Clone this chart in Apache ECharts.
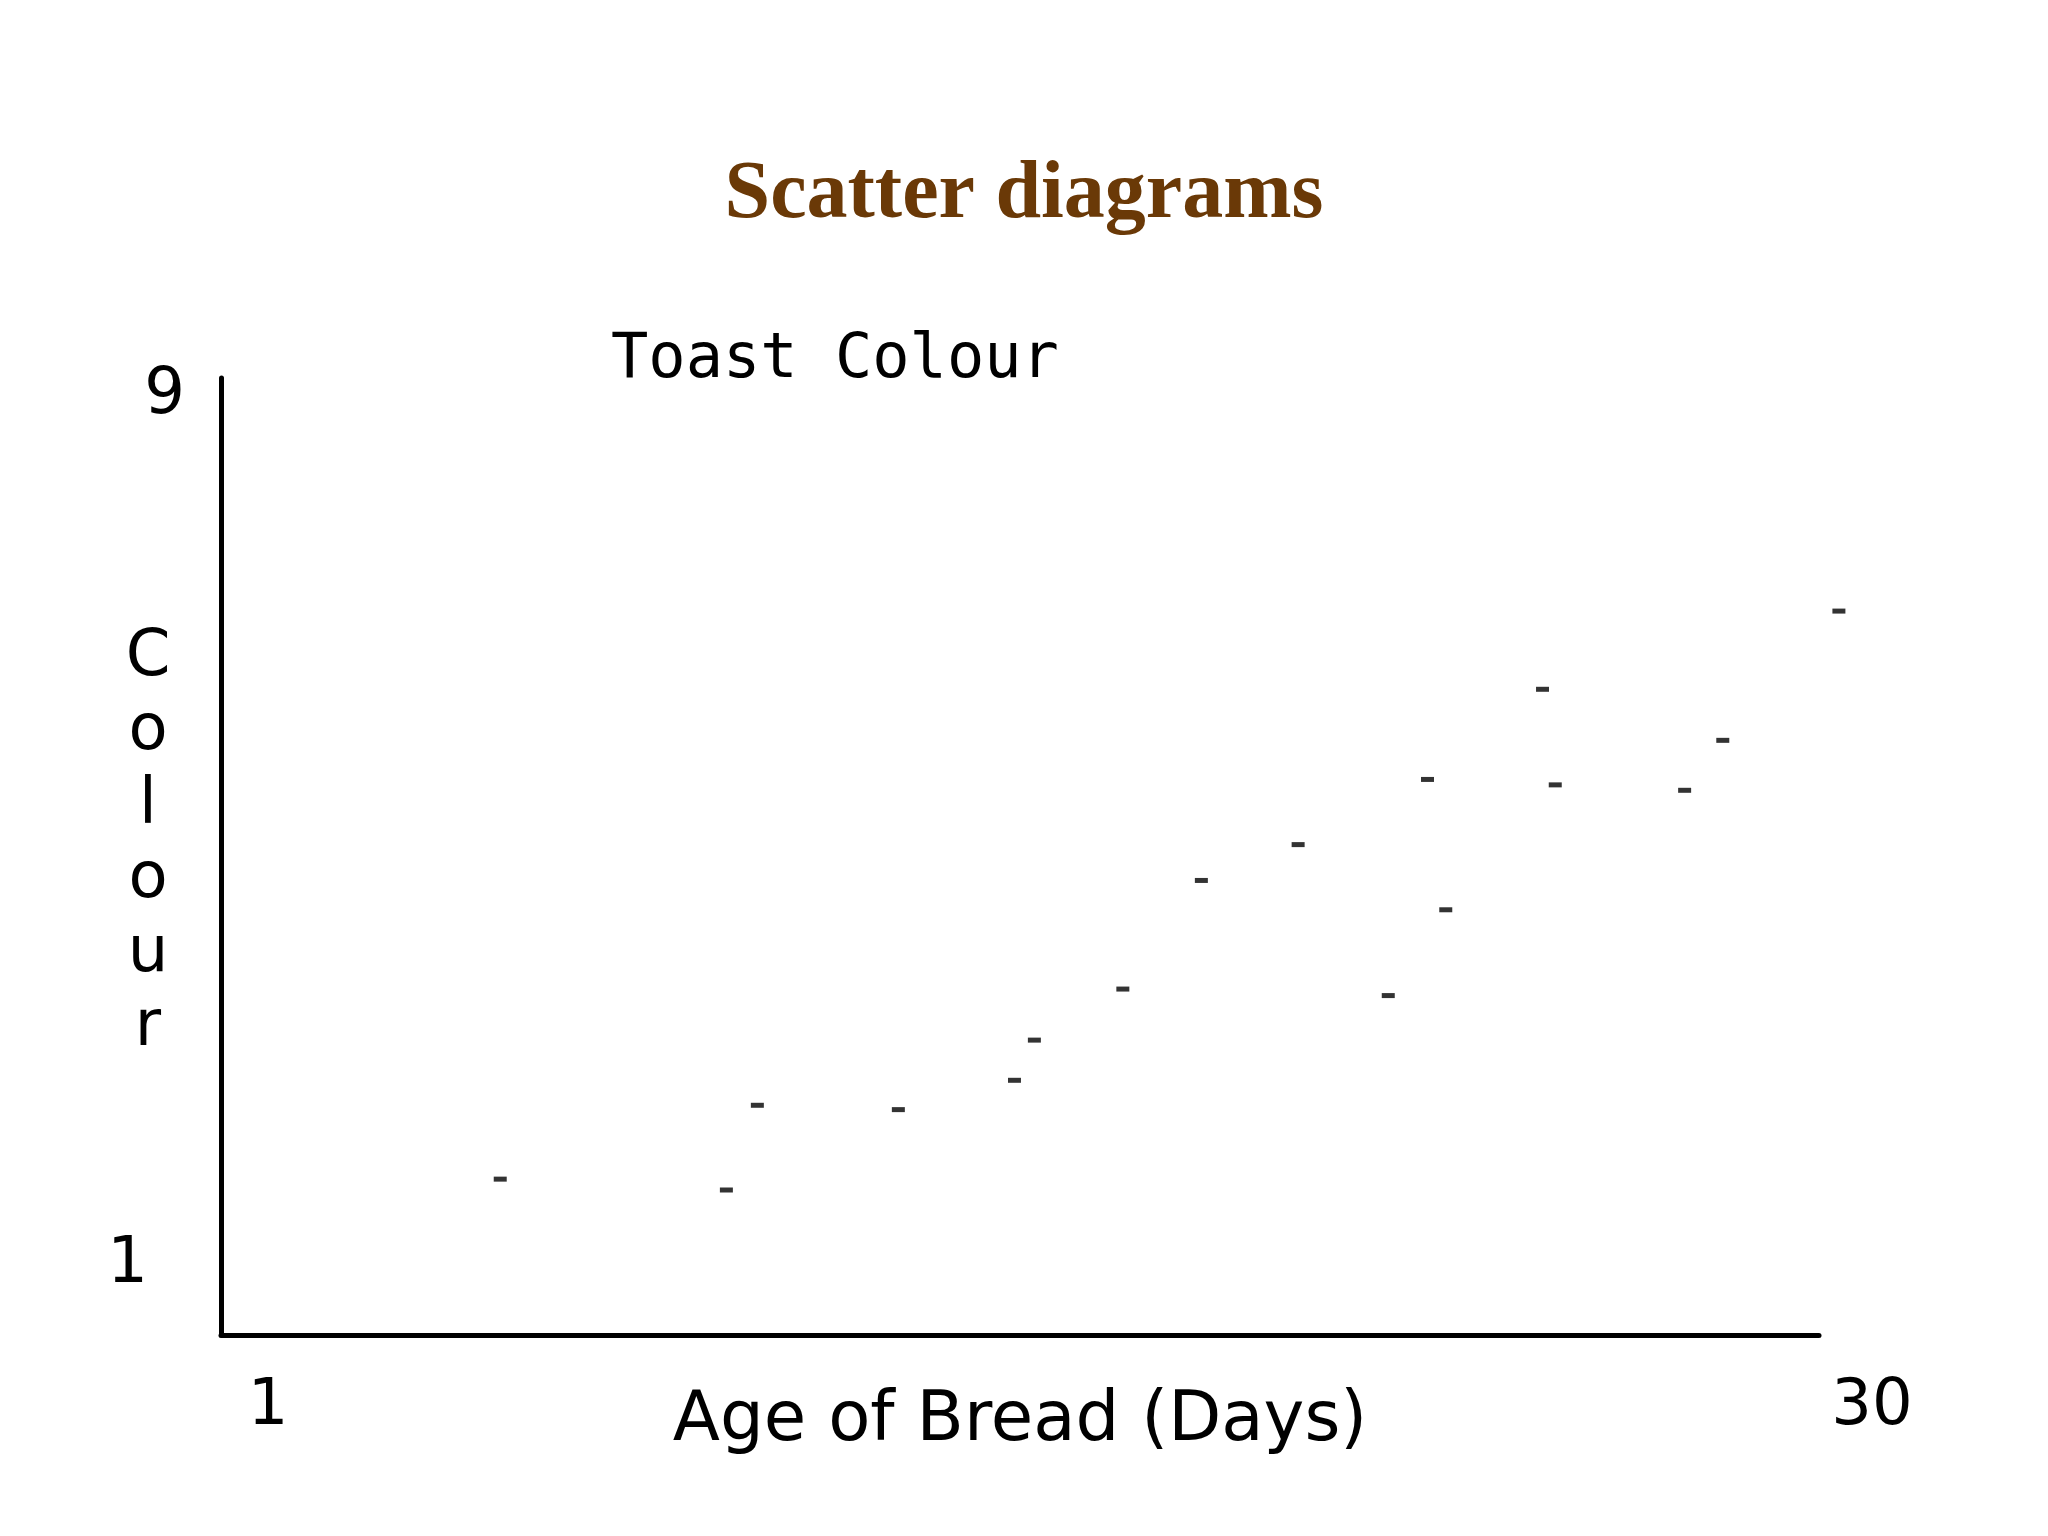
<!DOCTYPE html>
<html>
<head>
<meta charset="utf-8">
<script src="https://cdn.jsdelivr.net/npm/echarts@6/dist/echarts.min.js"></script>
<style>
html,body{margin:0;padding:0;background:#ffffff;}
#chart{width:2048px;height:1536px;}
</style>
</head>
<body>
<div id="chart"></div>
<script>
// ---- data ----
const pageTitle = 'Scatter diagrams';
const chartTitle = 'Toast Colour';
const xAxisName = 'Age of Bread (Days)';
const yAxisName = 'Colour';
// age of bread (days)
const ageDays = [5.20, 9.29, 9.85, 12.40, 14.50, 14.86, 16.46, 17.88, 19.63, 21.26, 21.97, 22.30, 24.05, 24.28, 26.62, 27.31, 29.41];
// toast colour
const colourValues = [1.79, 1.69, 2.47, 2.43, 2.70, 3.07, 3.54, 4.54, 4.87, 3.48, 5.47, 4.27, 6.30, 5.42, 5.37, 5.83, 7.02];
// axis extents and tick labels
const xMin = 0.15, xMax = 29.05;
const yMin = 0.355, yMax = 9.166;
const xTickValues = [1, xMax];
const xTickLabels = ['1', '30'];
const yTickValues = [1, 9];
const yTickLabels = ['1', '9'];

const points = ageDays.map((d, i) => [d, colourValues[i]]);
const FONT = "'DejaVu Sans', Verdana, sans-serif";

const chart = echarts.init(document.getElementById('chart'));
chart.setOption({
  backgroundColor: '#ffffff',
  animation: false,
  title: [
    {
      text: pageTitle,
      left: 'center',
      top: 150,
      textStyle: { fontFamily: "'Liberation Serif', 'Times New Roman', serif", fontWeight: 'bold', fontSize: 82, color: '#6a3907' }
    },
    {
      text: chartTitle,
      left: 606,
      top: 325,
      textStyle: { fontFamily: "'DejaVu Sans Mono', monospace", fontWeight: 'normal', fontSize: 62, color: '#000000' }
    }
  ],
  grid: { left: 221, right: 229, top: 378, bottom: 201, containLabel: false },
  xAxis: {
    type: 'value',
    min: xMin,
    max: xMax,
    name: xAxisName,
    nameLocation: 'middle',
    nameGap: 53,
    nameMoveOverlap: false,
    nameTextStyle: { fontFamily: FONT, fontSize: 69, color: '#000000', verticalAlign: 'top' },
    axisLine: { show: true, onZero: false, lineStyle: { color: '#000000', width: 5 } },
    axisTick: { show: false },
    splitLine: { show: false },
    axisLabel: {
      customValues: xTickValues,
      showMinLabel: true,
      showMaxLabel: true,
      margin: 40,
      fontFamily: FONT,
      fontSize: 64,
      color: '#000000',
      formatter: function (v) {
        const idx = xTickValues.indexOf(v);
        const t = idx >= 0 ? xTickLabels[idx] : '';
        return idx === 1 ? '{r|' + t + '}' : '{c|' + t + '}';
      },
      rich: {
        c: { fontFamily: FONT, fontSize: 64, color: '#000000' },
        r: { fontFamily: FONT, fontSize: 64, color: '#000000', padding: [0, 0, 0, 106] }
      }
    }
  },
  yAxis: {
    type: 'value',
    min: yMin,
    max: yMax,
    name: yAxisName.split('').join('\n') + '\n{s| }',
    nameLocation: 'middle',
    nameRotate: 0,
    nameGap: 73,
    nameMoveOverlap: false,
    nameTextStyle: {
      fontFamily: FONT, fontSize: 64, color: '#000000', lineHeight: 74, align: 'center', verticalAlign: 'middle',
      rich: { s: { fontSize: 2, lineHeight: 26 } }
    },
    axisLine: { show: true, onZero: false, lineStyle: { color: '#000000', width: 5 } },
    axisTick: { show: false },
    splitLine: { show: false },
    axisLabel: {
      customValues: yTickValues,
      showMinLabel: true,
      showMaxLabel: true,
      margin: 36,
      fontFamily: FONT,
      fontSize: 64,
      color: '#000000',
      formatter: function (v) {
        const idx = yTickValues.indexOf(v);
        const t = idx >= 0 ? yTickLabels[idx] : '';
        return idx === 0 ? '{b|' + t + '}' : '{a|' + t + '}';
      },
      rich: {
        a: { fontFamily: FONT, fontSize: 64, color: '#000000' },
        b: { fontFamily: FONT, fontSize: 64, color: '#000000', padding: [0, 37, 0, 0] }
      }
    }
  },
  series: [{
    type: 'scatter',
    data: points,
    clip: false,
    symbol: 'rect',
    symbolSize: [13, 5],
    itemStyle: { color: '#000000' }
  }]
});
</script>
</body>
</html>
